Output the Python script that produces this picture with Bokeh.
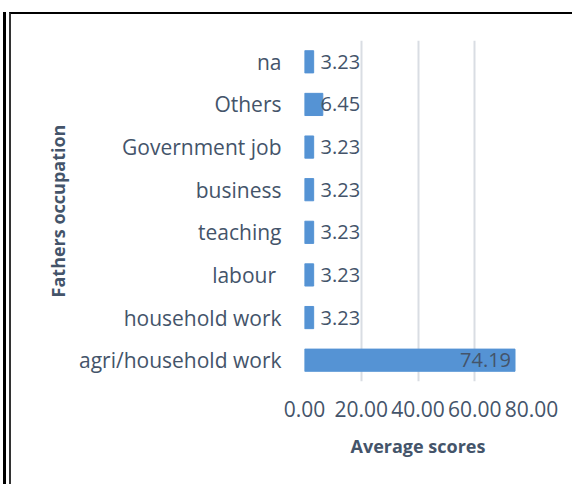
from bokeh.plotting import figure
from bokeh.models import ColumnDataSource, FixedTicker, NumeralTickFormatter, Range1d, FactorRange, InlineStyleSheet
from bokeh.embed import file_html
from bokeh.resources import INLINE

categories = ["agri/household work", "household work", "labour ", "teaching",
              "business", "Government job", "Others", "na"]
values = [74.19, 3.23, 3.23, 3.23, 3.23, 3.23, 6.45, 3.23]
x_ticks = [0, 20, 40, 60, 80]

TEXT = "#44546A"
FONT = "Open Sans"

labels = ["%.2f" % v for v in values]
small = [v < 10 for v in values]
src_small = ColumnDataSource(dict(
    y=[c for c, s in zip(categories, small) if s],
    x=[0 for s in small if s],
    t=[l for l, s in zip(labels, small) if s]))
src_big = ColumnDataSource(dict(
    y=[c for c, s in zip(categories, small) if not s],
    x=[v for v, s in zip(values, small) if not s],
    t=[l for l, s in zip(labels, small) if not s]))

p = figure(width=572, height=484, output_backend="svg", toolbar_location=None,
           y_range=FactorRange(*categories, range_padding=0),
           x_range=Range1d(0, 80),
           min_border_left=304, min_border_right=41,
           min_border_top=40, min_border_bottom=103)

p.hbar(y=categories, right=values, left=0, height=0.52, color="#5593D4")

p.text(x="x", y="y", text="t", source=src_small, text_align="left",
       text_baseline="middle", x_offset=16, text_font_size="20px",
       text_color=TEXT, text_font={"value": FONT})
p.text(x="x", y="y", text="t", source=src_big, text_align="right",
       text_baseline="middle", x_offset=-4, text_font_size="20px",
       text_color=TEXT, text_font={"value": FONT})

p.outline_line_color = None
p.ygrid.grid_line_color = None
p.xgrid.grid_line_color = "#D9DDE3"
p.xgrid.grid_line_width = 2
p.xaxis.ticker = FixedTicker(ticks=x_ticks)
p.xaxis.formatter = NumeralTickFormatter(format="0.00")

for ax in (p.xaxis[0], p.yaxis[0]):
    ax.axis_line_color = None
    ax.major_tick_line_color = None
    ax.minor_tick_line_color = None
    ax.major_tick_out = 0
    ax.major_tick_in = 0
    ax.major_label_text_font = FONT
    ax.major_label_text_color = TEXT
    ax.axis_label_text_font = FONT
    ax.axis_label_text_font_size = "18px"
    ax.axis_label_text_font_style = "bold"
    ax.axis_label_text_color = TEXT

p.xaxis.major_label_text_font_size = "21px"
p.yaxis.major_label_text_font_size = "21px"
p.xaxis.major_label_standoff = 19
p.xaxis.axis_label = "Average scores"
p.xaxis.axis_label_standoff = 14
p.yaxis.major_label_standoff = 23
p.yaxis.axis_label = "Fathers occupation"
p.yaxis.axis_label_standoff = 6

p.stylesheets = [InlineStyleSheet(css="""
:host { position: relative; }
:host::before { content: ""; position: absolute; left: 3px; top: 12px; width: 3px; height: 472px;
  background: #000; z-index: 10; pointer-events: none; }
:host::after { content: ""; position: absolute; left: 9px; top: 12px; width: 561px; height: 470px;
  border-left: 2px solid #333; border-top: 2px solid #000; border-right: none; border-bottom: none;
  z-index: 10; pointer-events: none; }
""")]

open("out.html", "w").write(file_html(p, INLINE))
